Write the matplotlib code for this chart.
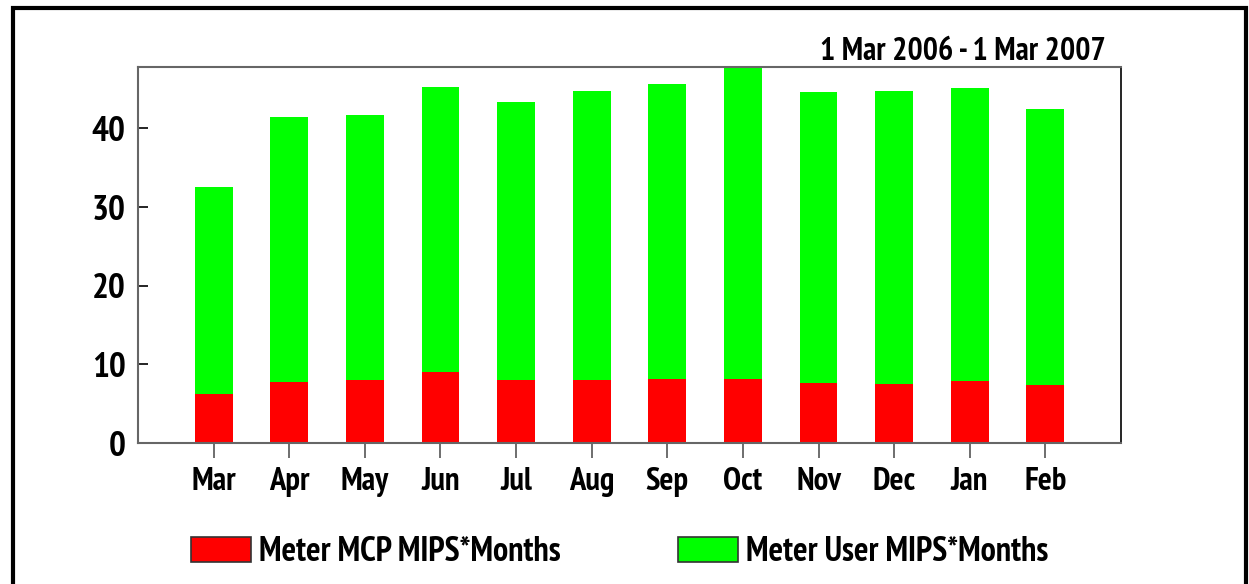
import numpy as np
import matplotlib
matplotlib.use('Agg')
import matplotlib.pyplot as plt
from matplotlib.patches import Patch, Rectangle

plt.rcParams['font.family'] = ['PT Sans Narrow', 'Roboto Condensed', 'DejaVu Sans']
plt.rcParams['font.weight'] = 'bold'

months = ['Mar', 'Apr', 'May', 'Jun', 'Jul', 'Aug', 'Sep', 'Oct', 'Nov', 'Dec', 'Jan', 'Feb']
mcp = [6.2, 7.75, 8.0, 9.0, 8.0, 8.0, 8.1, 8.1, 7.6, 7.5, 7.9, 7.4]
totals = [32.6, 41.4, 41.65, 45.2, 43.3, 44.8, 45.7, 47.8, 44.6, 44.7, 45.1, 42.5]
user = [t - m for t, m in zip(totals, mcp)]
yticks = [0, 10, 20, 30, 40]
period = '1 Mar 2006 - 1 Mar 2007'
series_names = ['Meter MCP MIPS*Months', 'Meter User MIPS*Months']
colors = ['#ff0000', '#00ff00']

fig = plt.figure(figsize=(12.49, 5.84), dpi=100)
ax = fig.add_axes([0.1105, 0.2414, 0.787, 0.6438])

x = np.arange(len(months))
ax.bar(x, mcp, width=0.5, color=colors[0], linewidth=0)
ax.bar(x, user, width=0.5, bottom=mcp, color=colors[1], linewidth=0)

ax.set_xlim(-1, 12)
ax.set_ylim(0, 47.8)
ax.set_xticks(x)
ax.set_xticklabels(months)
ax.set_yticks(yticks)

ax.tick_params(axis='x', direction='out', length=11, width=1.2, color='#555555',
               labelsize=23.5, pad=6)
ax.tick_params(axis='y', direction='in', length=7, width=1.2, color='black',
               labelsize=25.5, pad=9)
for side in ['left', 'bottom', 'top']:
    ax.spines[side].set_color('#666666')
    ax.spines[side].set_linewidth(1.5)
ax.spines['right'].set_color('black')
ax.spines['right'].set_linewidth(1.2)

fig.text(0.8855, 0.8973, period, ha='right', va='baseline', fontsize=23, fontweight='bold')

handles = [Patch(facecolor=c, edgecolor='#333333', linewidth=1.2) for c in colors]
fig.legend(handles, series_names, loc='center', bbox_to_anchor=(0.4964, 0.054),
           ncol=2, frameon=False, fontsize=24.5, handlelength=1.76, handleheight=0.73,
           handletextpad=0.24, columnspacing=3.45)

fig.add_artist(Rectangle((0.0104, -0.05), 0.9872, 1.036, transform=fig.transFigure,
                         fill=False, edgecolor='black', linewidth=3))

fig.savefig('out.png', dpi=100)
